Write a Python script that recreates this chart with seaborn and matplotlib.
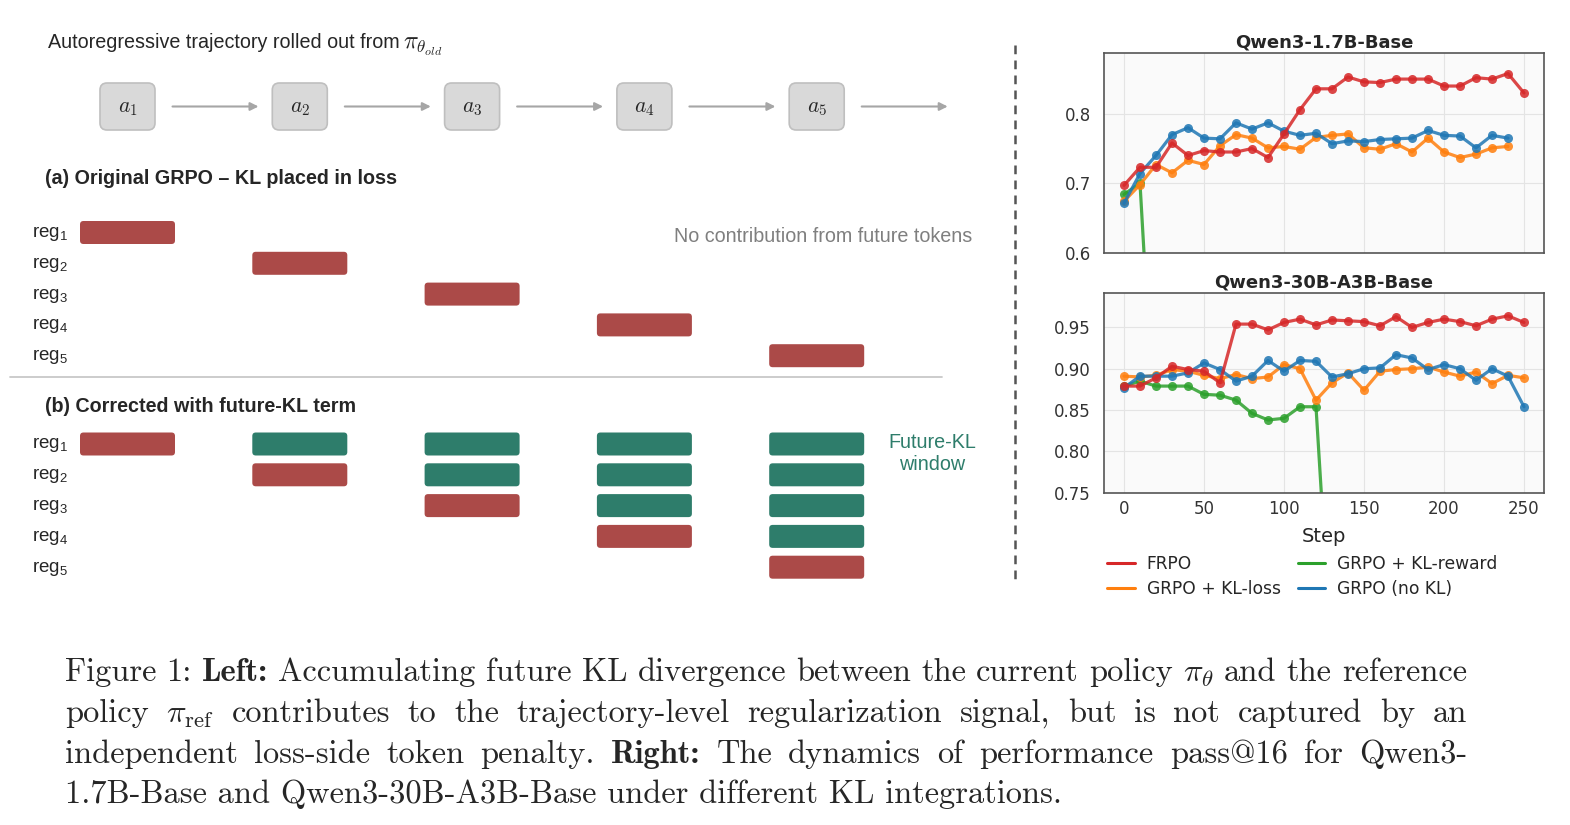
import numpy as np
import pandas as pd
import matplotlib
matplotlib.use("Agg")
import matplotlib.pyplot as plt
from matplotlib.patches import FancyBboxPatch
from matplotlib.lines import Line2D
from matplotlib.font_manager import FontProperties
import seaborn as sns

# ---- pass@16 curves ----
steps = [0, 10, 20, 30, 40, 50, 60, 70, 80, 90, 100, 110, 120,
         130, 140, 150, 160, 170, 180, 190, 200, 210, 220, 230, 240, 250]
methods = ["FRPO", "GRPO + KL-loss", "GRPO + KL-reward", "GRPO (no KL)"]
method_colors = ["#d62728", "#ff7f0e", "#2ca02c", "#1f77b4"]

small_frpo = [0.697, 0.723, 0.723, 0.758, 0.740, 0.747, 0.745, 0.745, 0.750, 0.737,
              0.771, 0.806, 0.836, 0.836, 0.853, 0.846, 0.845, 0.850, 0.850, 0.850,
              0.840, 0.840, 0.852, 0.850, 0.858, 0.830]
small_kl_loss = [0.674, 0.698, 0.727, 0.715, 0.733, 0.727, 0.754, 0.770, 0.765, 0.751,
                 0.753, 0.749, 0.766, 0.769, 0.771, 0.751, 0.749, 0.757, 0.745, 0.765,
                 0.745, 0.737, 0.742, 0.751, 0.753]
small_kl_reward = [0.684, 0.700, 0.300]
small_no_kl = [0.671, 0.714, 0.740, 0.770, 0.780, 0.765, 0.764, 0.787, 0.778, 0.787,
               0.775, 0.769, 0.772, 0.757, 0.761, 0.760, 0.763, 0.764, 0.765, 0.776,
               0.769, 0.768, 0.751, 0.769, 0.765]

big_frpo = [0.879, 0.879, 0.889, 0.903, 0.899, 0.897, 0.883, 0.954, 0.954, 0.947,
            0.956, 0.960, 0.953, 0.959, 0.958, 0.957, 0.952, 0.963, 0.950, 0.956,
            0.960, 0.957, 0.952, 0.960, 0.964, 0.956]
big_kl_loss = [0.891, 0.890, 0.892, 0.899, 0.897, 0.892, 0.888, 0.893, 0.888, 0.890,
               0.905, 0.900, 0.862, 0.883, 0.895, 0.874, 0.897, 0.899, 0.900, 0.902,
               0.896, 0.891, 0.896, 0.882, 0.892, 0.889]
big_kl_reward = [0.879, 0.885, 0.879, 0.879, 0.879, 0.869, 0.868, 0.862, 0.846, 0.838,
                 0.840, 0.854, 0.854, 0.540]
big_no_kl = [0.877, 0.891, 0.891, 0.891, 0.895, 0.907, 0.899, 0.885, 0.891, 0.910,
             0.897, 0.910, 0.909, 0.890, 0.894, 0.900, 0.901, 0.917, 0.913, 0.899,
             0.905, 0.900, 0.886, 0.900, 0.891, 0.854]

# ---- schematic on the left ----
token_labels = [r"$a_1$", r"$a_2$", r"$a_3$", r"$a_4$", r"$a_5$"]
reg_labels = [r"$\mathregular{reg_1}$", r"$\mathregular{reg_2}$", r"$\mathregular{reg_3}$",
              r"$\mathregular{reg_4}$", r"$\mathregular{reg_5}$"]
# 1 = own-token penalty (red), 2 = future-KL contribution (green)
loss_only_cells = [[1, 0, 0, 0, 0],
                   [0, 1, 0, 0, 0],
                   [0, 0, 1, 0, 0],
                   [0, 0, 0, 1, 0],
                   [0, 0, 0, 0, 1]]
future_kl_cells = [[1, 2, 2, 2, 2],
                   [0, 1, 2, 2, 2],
                   [0, 0, 1, 2, 2],
                   [0, 0, 0, 1, 2],
                   [0, 0, 0, 0, 1]]
cell_colors = {1: "#ab4a48", 2: "#2e7d6b"}

caption_lines = [
    [("Figure", "r"), ("1:", "r"), ("Left:", "b"), ("Accumulating", "r"), ("future", "r"),
     ("KL", "r"), ("divergence", "r"), ("between", "r"), ("the", "r"), ("current", "r"),
     ("policy", "r"), (r"$\pi_\theta$", "r"), ("and", "r"), ("the", "r"), ("reference", "r")],
    [("policy", "r"), (r"$\pi_{\mathrm{ref}}$", "r"), ("contributes", "r"), ("to", "r"),
     ("the", "r"), ("trajectory-level", "r"), ("regularization", "r"), ("signal,", "r"),
     ("but", "r"), ("is", "r"), ("not", "r"), ("captured", "r"), ("by", "r"), ("an", "r")],
    [("independent", "r"), ("loss-side", "r"), ("token", "r"), ("penalty.", "r"),
     ("Right:", "b"), ("The", "r"), ("dynamics", "r"), ("of", "r"), ("performance", "r"),
     ("pass@16", "r"), ("for", "r"), ("Qwen3-", "r")],
]
caption_last = "1.7B-Base and Qwen3-30B-A3B-Base under different KL integrations."


def to_long(series):
    rows = []
    for name, vals in series.items():
        for s, v in zip(steps, vals):
            rows.append({"Step": s, "value": v, "method": name})
    return pd.DataFrame(rows)


sns.set_style("whitegrid", {"axes.facecolor": "#fafafa", "axes.edgecolor": "#555555",
                            "grid.color": "#e4e4e4"})
plt.rcParams["font.family"] = ["DejaVu Sans"]
plt.rcParams["mathtext.fontset"] = "cm"

W, H = 1570, 825
fig = plt.figure(figsize=(W / 100, H / 100), dpi=100)

# background axes in pixel units for the schematic and caption
bg = fig.add_axes([0, 0, 1, 1], zorder=0)
bg.set_xlim(0, W)
bg.set_ylim(H, 0)
bg.axis("off")

SANS = "Liberation Sans"
FS = 14.2
COL_X0, COL_DX = 127.5, 172.3
BOX_Y = 106.5
ROW_A_Y0, ROW_B_Y0, ROW_DY = 232.5, 444, 30.8
BAR_W, BAR_H = 95, 23

bg.text(48, 43, "Autoregressive trajectory rolled out from",
        family=SANS, fontsize=FS, va="center", ha="left")
bg.text(403, 49, r"$\pi_{\theta_{old}}$", fontsize=17.5, va="baseline", ha="left")

for i, lab in enumerate(token_labels):
    cx = COL_X0 + i * COL_DX
    bg.add_patch(FancyBboxPatch((cx - 27.5, BOX_Y - 23.5), 55, 47,
                                boxstyle="round,pad=0,rounding_size=7",
                                fc="#d9d9d9", ec="#bfbfbf", lw=1.2))
    bg.text(cx, BOX_Y + 2, lab, fontsize=15.5, ha="center", va="center")
    bg.annotate("", xy=(cx + 131, BOX_Y), xytext=(cx + 45, BOX_Y),
                arrowprops=dict(arrowstyle="-|>", color="#a6a6a6", lw=1.5,
                                mutation_scale=12, shrinkA=0, shrinkB=0))

bg.text(45, 178, "(a) Original GRPO \u2013 KL placed in loss", family=SANS,
        fontweight="bold", fontsize=FS, va="center")
bg.text(45, 407, "(b) Corrected with future-KL term", family=SANS,
        fontweight="bold", fontsize=FS, va="center")
bg.text(674, 237, "No contribution from future tokens", family=SANS, fontsize=FS,
        color="#7f7f7f", va="center")
bg.text(932, 453, "Future-KL\nwindow", family=SANS, fontsize=FS, color="#2e7d6b",
        ha="center", va="center", linespacing=1.2)
bg.plot([10, 942], [377, 377], color="#c8c8c8", lw=1.3)
bg.plot([1015, 1015], [45, 585], color="#555555", lw=1.8, ls=(0, (3.5, 2.5)))

for y0, cells in [(ROW_A_Y0, loss_only_cells), (ROW_B_Y0, future_kl_cells)]:
    for r, row in enumerate(cells):
        cy = y0 + r * ROW_DY
        bg.text(32, cy + 1, reg_labels[r], family=SANS, fontsize=13.5, va="center")
        for c, kind in enumerate(row):
            if kind == 0:
                continue
            cx = COL_X0 + c * COL_DX
            bg.add_patch(FancyBboxPatch((cx - BAR_W / 2, cy - BAR_H / 2), BAR_W, BAR_H,
                                        boxstyle="round,pad=0,rounding_size=3.5",
                                        fc=cell_colors[kind], ec="none"))

# ---- right plots ----
ax1 = fig.add_axes([1104 / W, 1 - 252.7 / H, 440 / W, 200 / H])
ax2 = fig.add_axes([1104 / W, 1 - 492.7 / H, 440 / W, 200 / H])
palette = dict(zip(methods, method_colors))

for ax, series, title, ylim, yticks, fmt in [
        (ax1, {"FRPO": small_frpo, "GRPO + KL-loss": small_kl_loss,
               "GRPO + KL-reward": small_kl_reward, "GRPO (no KL)": small_no_kl},
         "Qwen3-1.7B-Base", (0.6, 0.888), [0.6, 0.7, 0.8], "{:.1f}"),
        (ax2, {"FRPO": big_frpo, "GRPO + KL-loss": big_kl_loss,
               "GRPO + KL-reward": big_kl_reward, "GRPO (no KL)": big_no_kl},
         "Qwen3-30B-A3B-Base", (0.75, 0.992), [0.75, 0.80, 0.85, 0.90, 0.95], "{:.2f}")]:
    df = to_long(series)
    for m in ["GRPO + KL-reward", "GRPO + KL-loss", "GRPO (no KL)", "FRPO"]:
        sns.lineplot(data=df[df["method"] == m], x="Step", y="value", color=palette[m],
                     marker="o", markersize=6.5, markeredgewidth=0, linewidth=2.3,
                     alpha=0.85, ax=ax, legend=False, errorbar=None)
    ax.set_xlim(-12.5, 262.5)
    ax.set_ylim(*ylim)
    ax.set_xticks([0, 50, 100, 150, 200, 250])
    ax.set_yticks(yticks)
    ax.set_yticklabels([fmt.format(t) for t in yticks])
    ax.set_title(title, fontsize=13, fontweight="bold", pad=4, color="#262626")
    ax.set_ylabel("")
    ax.tick_params(labelsize=12, colors="#333333")
    ax.tick_params(axis="y", pad=6)
    ax.tick_params(axis="x", pad=2)
    for sp in ax.spines.values():
        sp.set_linewidth(1.2)

ax1.set_xlabel("")
ax1.set_xticklabels([])
ax2.set_xlabel("Step", fontsize=14, color="#262626", labelpad=6)

handles = [Line2D([], [], color=c, lw=2.2) for c in method_colors]
fig.legend(handles, methods, ncol=2, loc="upper left",
           bbox_to_anchor=(1092 / W, 1 - 540 / H), frameon=False, fontsize=12.3,
           handlelength=1.6, handletextpad=0.7, columnspacing=1.0, labelspacing=0.4)

# ---- caption, justified like the LaTeX original ----
fig.canvas.draw()
rend = fig.canvas.get_renderer()
fp_r = FontProperties(family=["cmr10", "DejaVu Serif"])
fp_b = FontProperties(family=["cmb10", "DejaVu Serif"])


def text_w(s, fp, size):
    p = fp.copy()
    p.set_size(size)
    w, _, _ = rend.get_text_width_height_descent(s, p, ismath=s.startswith("$"))
    return w


base = 10.0
cap_size = base * (1062 - 65) / text_w(caption_last, fp_r, base)
cap_left, cap_right = 65, 1467
baselines = [681, 722, 763, 803]
for line, yb in zip(caption_lines, baselines):
    widths = [text_w(w, fp_b if k == "b" else fp_r, cap_size) for w, k in line]
    gap = (cap_right - cap_left - sum(widths)) / (len(line) - 1)
    x = cap_left
    for (w, k), wd in zip(line, widths):
        bg.text(x, yb, w, fontproperties=(fp_b if k == "b" else fp_r), fontsize=cap_size,
                va="baseline", ha="left")
        x += wd + gap
bg.text(cap_left, baselines[3], caption_last, fontproperties=fp_r, fontsize=cap_size,
        va="baseline", ha="left")

fig.savefig("out.png", dpi=100)
